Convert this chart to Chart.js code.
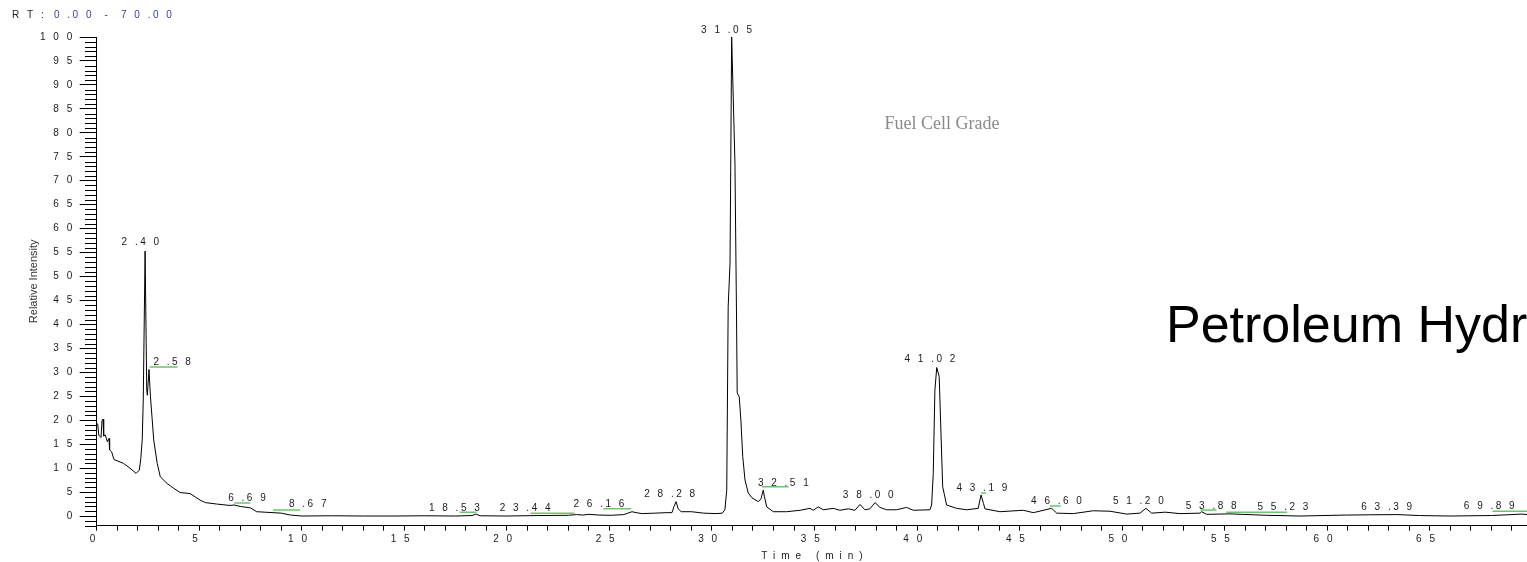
<!DOCTYPE html>
<html>
<head>
  <title>RT 0.00 - 70.00 chromatogram</title>
  <script src="https://cdn.jsdelivr.net/npm/chart.js"></script>
  <style>
    body { margin: 0; background: #fff; }
  </style>
</head>
<body>
  <canvas id="chart" width="1527" height="562"></canvas>

  <script>
    // retention time (min) and relative intensity (%)
    const rt = [
      0, 0.05, 0.1, 0.21, 0.26, 0.31, 0.34, 0.42, 0.52, 0.6,
      0.63, 0.73, 0.84, 1.3, 1.62, 1.92, 2.08, 2.15, 2.22, 2.27,
      2.36, 2.44, 2.47, 2.55, 2.62, 2.7, 2.78, 2.95, 3.1, 3.43,
      3.75, 4.07, 4.55, 4.8, 5.05, 5.3, 5.85, 6.5, 6.7, 7.0,
      7.5, 7.8, 8.6, 9.0, 9.45, 10.0,
      11.5, 13.0, 14.5, 16.0, 17.5, 18.3, 18.5, 18.7, 20.0, 21.5,
      23.0, 23.4, 23.7, 24.0, 24.5, 25.1, 25.7, 26.1, 26.3, 26.6,
      27.2, 27.8, 28.05, 28.15, 28.25, 28.35, 28.5, 29.0, 29.6, 30.2,
      30.5, 30.63, 30.72, 30.79, 30.88, 30.96, 31.12, 31.2, 31.23, 31.33,
      31.41, 31.5, 31.61, 31.77, 31.95, 32.26, 32.39, 32.5, 32.56, 32.67,
      32.99,
      33.64, 34.3, 34.78, 34.94, 35.18, 35.43, 35.91, 36.24, 36.65, 36.97,
      37.22, 37.46, 37.7, 37.95, 38.19, 38.52, 39.0, 39.49, 39.82, 40.63,
      40.71, 40.79, 40.87, 40.96, 41.08, 41.15, 41.25, 41.44, 41.93, 42.42,
      42.98, 43.12, 43.24, 43.31, 44.04, 45.18, 45.67, 46.56, 46.81, 47.62,
      48.59,
      49.41, 50.22, 50.87, 51.16, 51.44, 52.1, 52.82, 53.8, 53.88, 54.12,
      55.26, 57.05, 58.67, 60.95, 62.0, 63.4, 64.5, 66.0, 68.0, 69.5,
      69.74
    ];
    const intensity = [
      19.4, 19.2, 16.9, 16.4, 20.0, 20.2, 16.7, 16.9, 15.5, 16.2,
      13.8, 13.4, 11.8, 11.0, 10.0, 8.9, 9.6, 12.0, 15.9, 24.2,
      55.3, 26.3, 25.2, 30.6, 25.0, 20.5, 15.9, 11.0, 8.2, 6.8,
      5.8, 4.9, 4.7, 4.0, 3.3, 2.8, 2.5, 2.2, 2.3, 2.0,
      1.7, 0.9, 0.7, 0.6, 0.2, 0.0,
      0.05, 0.0, 0.0, 0.05, 0.0, 0.1, 0.4, 0.05, 0.0, 0.1,
      0.15, 0.3, 0.2, 0.35, 0.2, 0.15, 0.3, 0.9, 0.7, 0.5,
      0.6, 0.7, 0.7, 2.0, 3.0, 1.5, 0.9, 0.9, 0.6, 0.5,
      0.6, 1.3, 5.4, 43.7, 52.8, 100, 73.7, 40.3, 25.7, 24.9,
      20.0, 12.4, 7.5, 4.8, 3.8, 3.0, 3.6, 5.4, 4.0, 1.9,
      0.9,
      0.9, 1.2, 1.6, 1.2, 1.9, 1.3, 1.6, 1.2, 1.5, 1.2,
      2.4, 1.3, 1.5, 2.8, 1.8, 1.3, 1.3, 1.8, 1.2, 1.3,
      2.3, 8.9, 26.3, 31.0, 29.1, 19.4, 6.1, 2.3, 1.6, 1.3,
      1.6, 4.4, 2.6, 1.5, 0.9, 1.2, 0.7, 1.6, 0.6, 0.5,
      1.1,
      1.0, 0.4, 0.6, 1.6, 0.6, 0.8, 0.5, 0.6, 0.9, 0.35,
      0.45, 0.15, 0.0, 0.2, 0.25, 0.3, 0.1, 0.0, 0.1, 0.4,
      0.3
    ];

    // peak annotations: text, and where the text sits (min, %)
    const peakText = ['2.40', '2.58', '6.69', '8.67', '18.53', '23.44', '26.16', '28.28', '31.05', '32.51',
                      '38.00', '41.02', '43.19', '46.60', '51.20', '53.88', '55.23', '63.39', '69.89'];
    const peakTextRt = [2.19, 3.74, 7.39, 10.35, 17.5, 20.95, 24.55, 28.0, 30.77, 33.54,
                        37.68, 40.69, 43.22, 46.86, 50.85, 54.4, 57.9, 62.96, 67.96];
    const peakTextY = [57.2, 32.2, 3.8, 2.5, 1.7, 1.7, 2.5, 4.6, 101.5, 6.9,
                       4.4, 32.8, 5.8, 3.1, 3.1, 2.1, 1.9, 1.9, 2.1];

    // green integration marks: start, end (min) and level (%)
    const markStart = [2.58, 6.71, 8.6, 17.7, 21.15, 24.7, 32.43, 43.12, 46.48, 53.82, 55.08, 68.06];
    const markEnd   = [3.94, 7.49, 9.92, 18.52, 23.29, 26.06, 33.74, 43.36, 47.01, 54.6, 58.05, 69.74];
    const markLevel = [31.1, 2.7, 1.25, 0.8, 0.6, 1.5, 6.1, 4.8, 2.1, 1.25, 0.8, 1.0];

    const yTickLabels = [0, 5, 10, 15, 20, 25, 30, 35, 40, 45, 50, 55, 60, 65, 70, 75, 80, 85, 90, 95, 100];
    const xTickLabels = [0, 5, 10, 15, 20, 25, 30, 35, 40, 45, 50, 55, 60, 65];

    const xTickValues = [];
    for (let m = 0; m <= 69; m++) xTickValues.push(m);
    const yMinorTicks = [];
    for (let v = -2; v <= 100; v++) if (!yTickLabels.includes(v)) yMinorTicks.push(v);

    const spaced = s => s.split('').join(' ').replace(/\. /g, '.');
    const FONT = '"Liberation Sans", Arial, sans-serif';

    const decor = {
      id: 'decor',
      beforeDraw(chart) {
        chart.ctx.letterSpacing = '2.5px';
      },
      afterDatasetsDraw(chart) {
        const { ctx, scales: { x, y } } = chart;
        ctx.save();
        // short ticks between the labelled ones
        ctx.strokeStyle = '#000';
        ctx.lineWidth = 1;
        ctx.beginPath();
        for (const v of yMinorTicks) {
          const py = Math.round(y.getPixelForValue(v)) + 0.5;
          ctx.moveTo(Math.round(x.left) - 12, py);
          ctx.lineTo(Math.round(x.left), py);
        }
        ctx.stroke();

        // integration marks
        ctx.strokeStyle = '#6cc46c';
        ctx.lineWidth = 1.5;
        ctx.beginPath();
        markStart.forEach((s, i) => {
          const py = y.getPixelForValue(markLevel[i]);
          ctx.moveTo(x.getPixelForValue(s), py);
          ctx.lineTo(x.getPixelForValue(markEnd[i]), py);
        });
        ctx.stroke();

        // peak labels
        ctx.letterSpacing = '2.5px';
        ctx.font = '10px ' + FONT;
        ctx.fillStyle = '#1a1a1a';
        ctx.textAlign = 'center';
        ctx.textBaseline = 'middle';
        peakText.forEach((t, i) => {
          ctx.fillText(spaced(t), x.getPixelForValue(peakTextRt[i]), y.getPixelForValue(peakTextY[i]));
        });
        ctx.restore();
      },
      afterDraw(chart) {
        const { ctx, chartArea } = chart;
        ctx.save();
        // header
        ctx.letterSpacing = '2.5px';
        ctx.font = '10px ' + FONT;
        ctx.textAlign = 'left';
        ctx.textBaseline = 'middle';
        ctx.fillStyle = '#1a1a1a';
        ctx.fillText('R T :', 12, 15);
        ctx.fillStyle = '#3a3aa8';
        ctx.fillText(spaced('0.00') + '  -  ' + spaced('70.00'), 54, 15);

        // axis titles
        ctx.letterSpacing = '6px';
        ctx.fillStyle = '#1a1a1a';
        ctx.textAlign = 'center';
        ctx.fillText('Time (min)', 815, 556);

        ctx.letterSpacing = '0px';
        ctx.font = '11px ' + FONT;
        ctx.fillStyle = '#333';
        ctx.translate(34, (chartArea.top + chartArea.bottom) / 2);
        ctx.rotate(-Math.PI / 2);
        ctx.fillText('Relative Intensity', 0, 0);
        ctx.setTransform(1, 0, 0, 1, 0, 0);

        // sample notes
        ctx.font = '18px "Liberation Serif", "Times New Roman", serif';
        ctx.fillStyle = '#8a8a8a';
        ctx.fillText('Fuel Cell Grade', 942, 124);

        ctx.font = '52px ' + FONT;
        ctx.fillStyle = '#000';
        ctx.textAlign = 'left';
        ctx.textBaseline = 'alphabetic';
        ctx.fillText('Petroleum Hydrocarbons', 1166, 342);
        ctx.restore();
        ctx.letterSpacing = '0px';
      }
    };

    new Chart(document.getElementById('chart'), {
      type: 'line',
      data: {
        datasets: [{
          data: rt.map((t, i) => ({ x: t, y: intensity[i] })),
          borderColor: '#000',
          borderWidth: 1,
          pointRadius: 0,
          tension: 0,
          fill: false
        }]
      },
      options: {
        responsive: false,
        animation: false,
        events: [],
        layout: { padding: { top: 37, left: 0, right: 0, bottom: 0 } },
        plugins: { legend: { display: false }, tooltip: { enabled: false } },
        scales: {
          x: {
            type: 'linear',
            min: 0,
            max: 69.74,
            afterFit(s) { s.height = 36.4; },
            afterBuildTicks(s) { s.ticks = xTickValues.map(v => ({ value: v })); },
            ticks: {
              autoSkip: false,
              maxRotation: 0,
              padding: 3,
              labelOffset: -3,
              color: '#1a1a1a',
              font: { family: FONT, size: 10 },
              callback: v => xTickLabels.includes(v) ? spaced(String(v)) : ''
            },
            grid: { drawOnChartArea: false, tickLength: 5, color: '#000' },
            border: { color: '#000', width: 1 }
          },
          y: {
            min: -2,
            max: 100,
            afterFit(s) { s.width = 96.7; },
            afterBuildTicks(s) { s.ticks = yTickLabels.map(v => ({ value: v })); },
            ticks: {
              autoSkip: false,
              padding: 5,
              color: '#1a1a1a',
              font: { family: FONT, size: 10 },
              callback: v => spaced(String(v))
            },
            grid: { drawOnChartArea: false, tickLength: 17, color: '#000' },
            border: { color: '#000', width: 1 }
          }
        }
      },
      plugins: [decor]
    });
  </script>
</body>
</html>
